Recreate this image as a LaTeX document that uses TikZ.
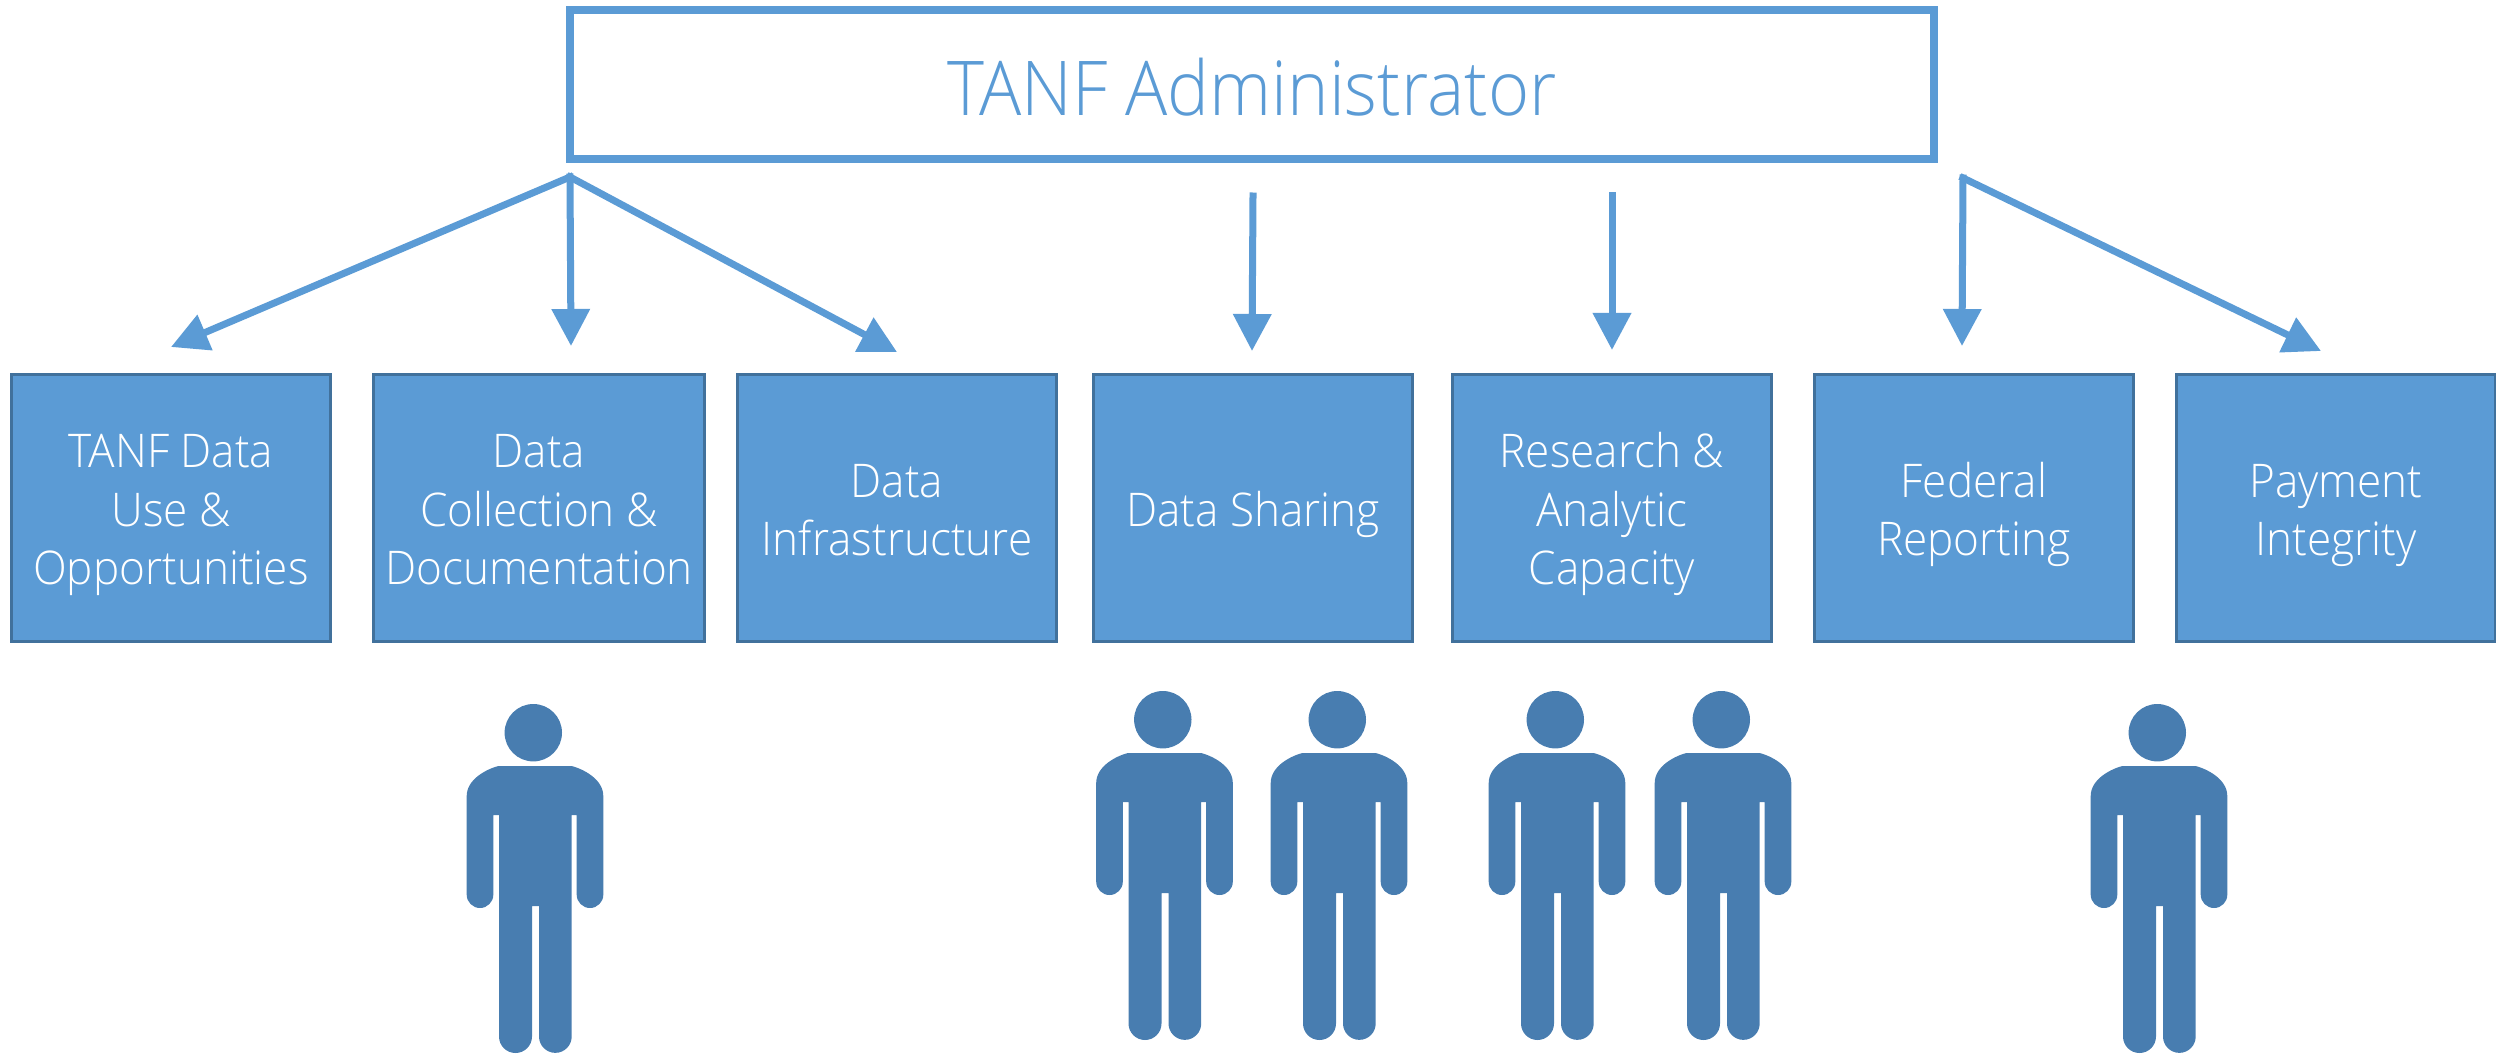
\documentclass[tikz,border=0pt]{standalone}
\usepackage{fontspec}
\setmainfont[FakeStretch=0.95]{Open Sans Light}
\newfontfamily\adminfont[FakeStretch=0.93]{Open Sans Light}
\usepackage{tikz}
\usetikzlibrary{arrows.meta}
\newcommand{\lifted}{\rule{0pt}{14.24pt}}
\definecolor{officeblue}{HTML}{5B9BD5}
\definecolor{officeedge}{HTML}{41719C}
\definecolor{staffblue}{HTML}{487DB0}
\tikzset{
  adminbox/.style={draw=officeblue,line width=0.08cm,minimum width=13.64cm,minimum height=1.49cm,inner sep=0pt,text=officeblue,font=\adminfont\fontsize{21.5}{26}\selectfont,execute at begin node={\rule{0pt}{18pt}}},
  taskbox/.style={draw=officeedge,fill=officeblue,line width=0.03cm,minimum height=2.67cm,inner sep=0pt,align=center,text=white,font=\fontsize{13.2}{16.5}\selectfont,execute at end node={\rule[-4pt]{0pt}{4pt}}},
  flow/.style={draw=officeblue,line width=0.07cm,line cap=rect,-{Triangle[length=0.37cm,width=0.37cm]}},
  staff/.pic={
    \fill[staffblue] (-1.7,-33.3) circle[radius=28.7];
    \fill[staffblue] (36.7,0) .. controls (48,3) and (68.3,13) .. (68.3,30) -- (68.3,128.7)
      arc[start angle=0,end angle=180,radius=13.3] -- (41.7,49) -- (36.7,49) -- (36.7,270.5)
      arc[start angle=0,end angle=180,radius=16.35] -- (4,140) -- (-3,140) -- (-3,270.5)
      arc[start angle=0,end angle=180,radius=16.5] -- (-36,49) -- (-41.7,49) -- (-41.7,128.7)
      arc[start angle=0,end angle=180,radius=13.3] -- (-68.3,30)
      .. controls (-68.3,13) and (-48,3) .. (-36.7,0) -- cycle;
  }
}
\begin{document}
\begin{tikzpicture}[x=0.01cm,y=-0.01cm]
\useasboundingbox (0,0) rectangle (2496,1054);
\node[adminbox] (admin) at (1252,84.5) {TANF Administrator};

\node[taskbox,minimum width=3.19cm] (datause) at (171,508) {\lifted TANF Data\\Use \&\\Opportunities};
\node[taskbox,minimum width=3.31cm] (collection) at (539,508) {\lifted Data\\Collection \&\\Documentation};
\node[taskbox,minimum width=3.18cm] (infra) at (897,508) {\lifted Data\\Infrastructure};
\node[taskbox,minimum width=3.19cm] (sharing) at (1253,508) {\lifted Data Sharing};
\node[taskbox,minimum width=3.19cm] (research) at (1612,508) {\lifted Research \&\\Analytic\\Capacity};
\node[taskbox,minimum width=3.19cm] (federal) at (1974,508) {\lifted Federal\\Reporting};
\node[taskbox,minimum width=3.19cm] (payment) at (2336,508) {\lifted Payment\\Integrity};

% free ends above the boxes
\coordinate (hubleft) at (570,177);
\coordinate (hubright) at (1963,178);
\coordinate (sharetop) at (1253,196);
\coordinate (researchtop) at (1612,195);
\coordinate (tipuse) at (171,347);
\coordinate (tipcollect) at (571,346);
\coordinate (tipinfra) at (897,352);
\coordinate (tipshare) at (1252,351);
\coordinate (tipresearch) at (1612,350);
\coordinate (tipfederal) at (1962,346);
\coordinate (tippayment) at (2321,351);

\draw[flow] (hubleft) -- (tipuse);
\draw[flow] (hubleft) -- (tipcollect);
\draw[flow] (hubleft) -- (tipinfra);
\draw[flow] (sharetop) -- (tipshare);
\draw[flow] (researchtop) -- (tipresearch);
\draw[flow] (hubright) -- (tipfederal);
\draw[flow] (hubright) -- (tippayment);

\pic at (535,766) {staff};
\pic at (1164.5,753) {staff};
\pic at (1339,753) {staff};
\pic at (1557,753) {staff};
\pic at (1723,753) {staff};
\pic at (2159,766) {staff};
\end{tikzpicture}
\end{document}
